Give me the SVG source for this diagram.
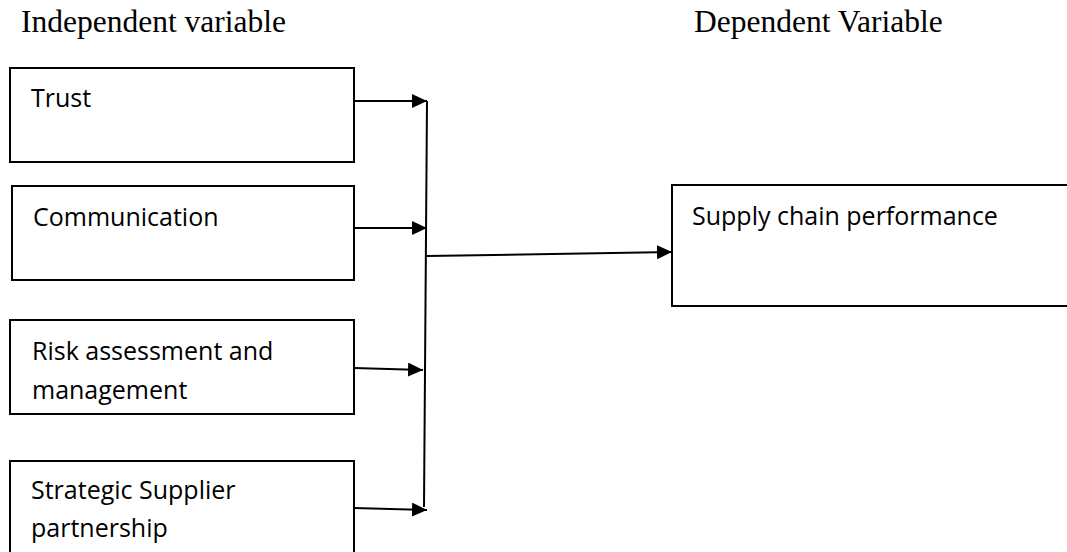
<svg xmlns="http://www.w3.org/2000/svg" width="1067" height="552" viewBox="0 0 1067 552">
  <style>
    .title { font-family: "Liberation Serif", "Times New Roman", serif; font-size: 31.5px; fill: #000; }
    .lbl { font-family: "Open Sans", "Liberation Sans", sans-serif; font-size: 25px; fill: #000; }
    .box { fill: #fff; stroke: #000; stroke-width: 2; }
    .conn { fill: none; stroke: #000; stroke-width: 2; }
  </style>
  <defs>
    <marker id="arrow" markerWidth="15" markerHeight="14" refX="15" refY="7" orient="auto" markerUnits="userSpaceOnUse">
      <path d="M0,0 L15,7 L0,14 Z" fill="#000"/>
    </marker>
  </defs>
  <rect width="1067" height="552" fill="#fff"/>

  <text class="title" x="21" y="32">Independent variable</text>
  <text class="title" x="694" y="32">Dependent Variable</text>

  <g id="node-trust">
    <rect class="box" x="10" y="68" width="344" height="94"/>
    <text class="lbl" x="31" y="107">Trust</text>
  </g>
  <g id="node-communication">
    <rect class="box" x="12" y="186" width="342" height="94"/>
    <text class="lbl" x="33" y="226">Communication</text>
  </g>
  <g id="node-risk">
    <rect class="box" x="10" y="320" width="344" height="94"/>
    <text class="lbl" x="32" y="360">Risk assessment and</text>
    <text class="lbl" x="32" y="399">management</text>
  </g>
  <g id="node-strategic">
    <rect class="box" x="10" y="461" width="344" height="100"/>
    <text class="lbl" x="31" y="499">Strategic Supplier</text>
    <text class="lbl" x="31" y="537">partnership</text>
  </g>
  <g id="node-supply">
    <rect class="box" x="672" y="185" width="400" height="121"/>
    <text class="lbl" x="692" y="225">Supply chain performance</text>
  </g>

  <g id="connectors">
    <line class="conn" x1="354" y1="101" x2="427" y2="101" marker-end="url(#arrow)"/>
    <line class="conn" x1="354" y1="228" x2="427" y2="228" marker-end="url(#arrow)"/>
    <line class="conn" x1="354" y1="368" x2="423" y2="370" marker-end="url(#arrow)"/>
    <line class="conn" x1="354" y1="508" x2="427" y2="510" marker-end="url(#arrow)"/>
    <line class="conn" x1="427" y1="101" x2="424" y2="507"/>
    <line class="conn" x1="427" y1="256" x2="672" y2="252" marker-end="url(#arrow)"/>
  </g>
</svg>
